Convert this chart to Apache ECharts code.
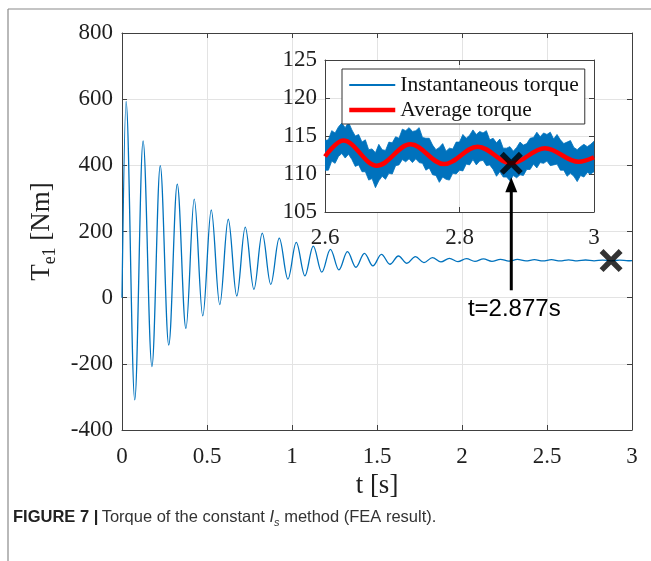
<!DOCTYPE html>
<html><head><meta charset="utf-8">
<script src="https://cdn.jsdelivr.net/npm/echarts@6/dist/echarts.min.js"></script>
<style>html,body{margin:0;padding:0;background:#fff}#c{width:651px;height:561px}</style>
</head><body><div id="c"></div>
<script>
// ---- data ----
// main transient (extrema of the oscillation), t in s, torque in Nm
const mainT = [0, 0.024, 0.075, 0.124, 0.176, 0.225, 0.275, 0.325, 0.376, 0.425, 0.475, 0.525, 0.575, 0.625, 0.675, 0.725, 0.776, 0.825, 0.875, 0.925, 0.976, 1.025, 1.076, 1.125, 1.175, 1.226, 1.276, 1.326, 1.376, 1.426, 1.476, 1.526, 1.576, 1.626, 1.676, 1.726, 1.776, 1.826, 1.876, 1.926, 1.976, 2.026, 2.076, 2.126, 2.176, 2.226, 2.276, 2.326, 2.376, 2.426, 2.476, 2.526, 2.577];
const mainV = [0, 593, -309, 474, -208, 399, -143, 343, -93, 298, -55, 265, -21, 237, 5, 213, 25, 195, 40, 180, 56, 167, 66, 156, 77, 146, 84, 139, 92, 134, 96, 131, 101, 126, 104, 124, 106, 121, 108, 119, 109, 118, 109.5, 117, 110, 116, 110.5, 115.5, 111, 115, 111, 114.8, 111];
// average torque in the zoom window (extrema)
const avgT = [2.6, 2.627, 2.677, 2.727, 2.777, 2.827, 2.877, 2.927, 2.977, 3.0];
const avgV = [112.3, 114.4, 111.1, 113.9, 111.3, 113.6, 111.4, 113.4, 111.6, 112.2];
// instantaneous torque band: samples every 5 ms from 2.6 s, upper and lower excursions
const instStart = 2.6, instStep = 0.005;
const instUpper = [114.4,114.5,115.7,115.4,116.2,116.7,116.1,116.8,115.8,115.0,
  115.2,114.2,114.5,113.2,113.3,112.8,113.9,113.2,113.1,114.2,
  114.1,114.9,114.7,115.9,115.7,116.1,115.6,115.7,116.1,114.8,
  114.7,114.7,113.8,113.2,113.5,114.0,113.0,113.4,113.3,114.2,
  114.2,115.2,114.7,115.1,115.8,115.2,115.6,115.4,115.7,114.5,
  114.7,114.1,114.6,113.4,113.4,113.6,113.0,113.5,114.2,113.8,
  114.0,114.7,114.8,115.5,114.9,115.4,115.2,115.5,114.6,115.2,
  114.5,114.0,114.2,114.4,113.5,113.2,113.6,113.9,113.6,113.9,114.3];
const instLower = [110.5,110.5,111.7,111.4,112.3,112.7,112.1,112.6,111.9,111.0,
  111.2,110.3,110.3,109.2,109.4,108.2,109.1,109.7,109.3,110.1,
  110.0,111.1,111.2,111.9,111.6,112.0,111.5,112.0,111.5,111.4,
  110.5,110.8,109.9,109.8,108.9,109.6,109.3,109.2,110.1,110.0,
  110.5,110.4,111.3,111.2,111.9,111.2,111.7,111.8,111.1,111.2,
  110.6,109.7,110.3,109.6,109.6,109.1,109.8,109.5,109.9,109.8,
  110.6,110.6,111.3,110.8,111.5,111.4,111.7,111.1,111.2,111.3,
  110.5,110.5,109.7,110.1,109.7,109.0,109.8,109.6,110.2,110.0,110.3];
// marked instant
const markT = 2.877, markMainV = 112, markInsetV = 111.4, arrowTailInsetV = 94.7;
const markText = 't=2.877s';
// axes
const mainX = {min: 0, max: 3, step: 0.5};
const mainY = {min: -400, max: 800, step: 200};
const insetX = {min: 2.6, max: 3.0, step: 0.2};
const insetY = {min: 105, max: 125, step: 5};
const seriesNames = ['Instantaneous torque', 'Average torque'];
const xName = 't [s]';
const caption = ['FIGURE 7 |', 'Torque of the constant ', 'I', 's', ' method (FEA result).'];

// ---- build ----
const SERIF = "'Liberation Serif','Times New Roman',serif";
const SANS = "'Liberation Sans',Arial,sans-serif";
const AX = '#404040', GRIDC = '#e3e3e3', TXT = '#1f1f1f', BLUE = '#0072BD';
const LBL = 23;

const mainData = mainT.map((t, i) => [t, mainV[i]]).concat(avgT.slice(1).map((t, i) => [t, avgV[i + 1]]));
const avgData = avgT.map((t, i) => [t, avgV[i]]);
const instTimes = instUpper.map((v, i) => instStart + i * instStep);
const instData = instTimes.map((t, i) => [t, instLower[i], instUpper[i]]);

const xPath = 'path://M0,1.7L1.7,0L5,3.3L8.3,0L10,1.7L6.7,5L10,8.3L8.3,10L5,6.7L1.7,10L0,8.3L3.3,5Z';

function valAxis(gridIndex, r, pos, opts) {
  const isMainSide = (pos === 'bottom' || pos === 'left');
  return Object.assign({
    type: 'value', gridIndex, position: pos, min: r.min, max: r.max, interval: r.step,
    axisLine: {show: true, onZero: false, lineStyle: {color: AX, width: 1}},
    axisTick: {show: true, inside: true, length: 5, lineStyle: {color: AX}},
    axisLabel: {show: false},
    splitLine: {show: isMainSide, lineStyle: {color: GRIDC, width: 1}}
  }, opts || {});
}
function lbl(margin, fmt) {
  const o = {show: true, color: TXT, fontFamily: SERIF, fontSize: LBL, margin, showMinLabel: true, showMaxLabel: true};
  if (fmt) o.formatter = fmt;
  return o;
}

const option = {
  animation: false,
  backgroundColor: '#fff',
  grid: [
    {left: 122, top: 33, width: 510, height: 397, z: 0},
    {left: 325, top: 60, width: 269, height: 152, show: true, backgroundColor: '#fff', borderWidth: 0, z: 5}
  ],
  xAxis: [
    valAxis(0, mainX, 'bottom', {name: xName, nameLocation: 'middle', nameGap: 37,
      nameTextStyle: {fontFamily: SERIF, fontSize: 27, color: TXT}, axisLabel: lbl(15)}),
    valAxis(0, mainX, 'top'),
    valAxis(1, insetX, 'bottom', {z: 6, axisLabel: lbl(14, v => String(Math.round(v * 10) / 10))}),
    valAxis(1, insetX, 'top', {z: 6})
  ],
  yAxis: [
    valAxis(0, mainY, 'left', {name: '{t|T}{s|e1}{t| [Nm]}', nameLocation: 'middle', nameGap: 63,
      nameTextStyle: {rich: {
        t: {fontFamily: SERIF, fontSize: 27, color: TXT, lineHeight: 34, verticalAlign: 'middle'},
        s: {fontFamily: SERIF, fontSize: 18, color: TXT, lineHeight: 34, verticalAlign: 'bottom'}}},
      axisLabel: lbl(9)}),
    valAxis(0, mainY, 'right'),
    valAxis(1, insetY, 'left', {z: 6, axisLabel: lbl(8)}),
    valAxis(1, insetY, 'right', {z: 6})
  ],
  legend: {
    show: true, orient: 'vertical', left: 342, top: 69, z: 10,
    backgroundColor: '#fff', borderColor: '#333', borderWidth: 1,
    padding: [5, 6, 3, 5], itemWidth: 46, itemHeight: 14, itemGap: 3,
    itemStyle: {opacity: 0},
    textStyle: {fontFamily: SERIF, fontSize: 21.5, color: '#111', lineHeight: 22},
    data: [
      {name: seriesNames[0], icon: 'path://M0,0L46,0L46,2L0,2Z', itemStyle: {color: BLUE, opacity: 1}},
      {name: seriesNames[1], lineStyle: {width: 4.5}}
    ]
  },
  series: [
    {type: 'line', name: 'Tmain', xAxisIndex: 0, yAxisIndex: 0, data: mainData, symbol: 'none',
     smooth: 0.36, smoothMonotone: 'x', lineStyle: {color: BLUE, width: 1.3}, z: 2, silent: true},
    {type: 'custom', name: seriesNames[0], xAxisIndex: 2, yAxisIndex: 2, data: instData,
     encode: {x: 0, y: [1, 2]}, clip: true, z: 7, silent: true, itemStyle: {color: BLUE},
     renderItem: (params, api) => {
       if (params.dataIndex !== 0) return null;
       const pts = [];
       for (let i = 0; i < instData.length; i++) pts.push(api.coord([instData[i][0], instData[i][2]]));
       for (let i = instData.length - 1; i >= 0; i--) pts.push(api.coord([instData[i][0], instData[i][1]]));
       return {type: 'polygon', shape: {points: pts}, style: {fill: BLUE, stroke: BLUE, lineWidth: 0.8}};
     }},
    {type: 'line', name: seriesNames[1], xAxisIndex: 2, yAxisIndex: 2, data: avgData, symbol: 'none',
     smooth: 0.36, smoothMonotone: 'x', itemStyle: {color: '#ff0000'}, lineStyle: {color: '#ff0000', width: 4.5}, z: 8, silent: true},
    {type: 'scatter', xAxisIndex: 0, yAxisIndex: 0, data: [[markT, markMainV]], symbol: xPath, symbolSize: [23, 23],
     itemStyle: {color: '#000'}, z: 20, silent: true},
    {type: 'scatter', xAxisIndex: 2, yAxisIndex: 2, data: [[markT, markInsetV]], symbol: xPath, symbolSize: [23, 23],
     itemStyle: {color: '#000'}, z: 20, silent: true}
  ]
};

const chart = echarts.init(document.getElementById('c'), null, {renderer: 'canvas'});
chart.setOption(option);

const tip = chart.convertToPixel({xAxisIndex: 2, yAxisIndex: 2}, [markT, markInsetV]);
const tail = chart.convertToPixel({xAxisIndex: 2, yAxisIndex: 2}, [markT, arrowTailInsetV]);
const tipY = tip[1] + 14;
chart.setOption({
  graphic: [
    {type: 'line', shape: {x1: 8, y1: 9, x2: 651, y2: 9}, style: {stroke: '#8a8a8a', lineWidth: 1.2}, z: 50},
    {type: 'line', shape: {x1: 8, y1: 9, x2: 8, y2: 561}, style: {stroke: '#8a8a8a', lineWidth: 1.2}, z: 50},
    {type: 'line', shape: {x1: tip[0], y1: tail[1], x2: tip[0], y2: tipY + 10}, style: {stroke: '#000', lineWidth: 3}, z: 50},
    {type: 'polygon', shape: {points: [[tip[0], tipY], [tip[0] - 6, tipY + 15], [tip[0] + 6, tipY + 15]]}, style: {fill: '#000'}, z: 50},
    {type: 'text', x: tip[0] + 3, y: tail[1] + 19, style: {text: markText, font: '24px ' + SANS, fill: '#000', align: 'center', verticalAlign: 'middle'}, z: 50},
    {type: 'text', x: 13, y: 517, z: 50, style: {
      text: '{b|' + caption[0] + '} {r|' + caption[1] + '}{i|' + caption[2] + '}{s|' + caption[3] + '}{r|' + caption[4] + '}',
      verticalAlign: 'middle',
      rich: {
        b: {fontFamily: SANS, fontWeight: 'bold', fontSize: 16.5, fill: '#222', lineHeight: 22, verticalAlign: 'middle'},
        r: {fontFamily: SANS, fontSize: 16.5, fill: '#333', lineHeight: 22, verticalAlign: 'middle'},
        i: {fontFamily: SANS, fontStyle: 'italic', fontSize: 16.5, fill: '#333', lineHeight: 22, verticalAlign: 'middle'},
        s: {fontFamily: SANS, fontStyle: 'italic', fontSize: 11, fill: '#333', lineHeight: 22, verticalAlign: 'bottom'}
      }}}
  ]
});
</script></body></html>
